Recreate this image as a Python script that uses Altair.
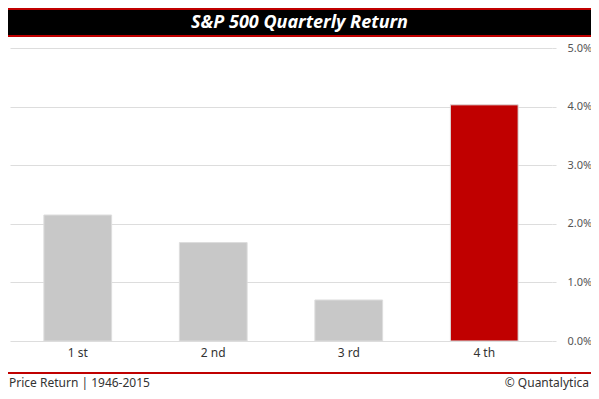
import altair as alt
import pandas as pd

quarters = ["1 st", "2 nd", "3 rd", "4 th"]
returns = [0.0215, 0.0168, 0.0070, 0.0403]
title_text = "S&P 500 Quarterly Return"
footer_left = "Price Return | 1946-2015"
footer_right = "© Quantalytica"

df = pd.DataFrame({"quarter": quarters, "ret": returns})

FONT = "Noto Sans"
PW, PH = 542, 293

base = alt.Chart(df)

bars = base.mark_bar(stroke="#dddddd", strokeWidth=1).encode(
    x=alt.X("quarter:N", sort=quarters, title=None,
            scale=alt.Scale(paddingInner=0.5, paddingOuter=0.25),
            axis=alt.Axis(labelAngle=0, ticks=False, domain=False, labelPadding=6,
                          labelFontSize=12, labelColor="#333333", labelFont=FONT)),
    y=alt.Y("ret:Q", title=None,
            scale=alt.Scale(domain=[0, 0.05]),
            axis=alt.Axis(orient="right", format=".1%", values=[0, 0.01, 0.02, 0.03, 0.04, 0.05],
                          domain=False, tickSize=4, tickColor="#dddddd", gridColor="#dddddd",
                          labelPadding=11, labelFontSize=11, labelColor="#555555", labelFont=FONT)),
    color=alt.condition(alt.datum.quarter == "4 th", alt.value("#c00000"), alt.value("#c8c8c8")),
)

deco = pd.DataFrame({"k": [0]})
dbase = alt.Chart(deco)

R = PW + 39  # right edge of canvas in plot coords
top_red = dbase.mark_rect(color="#c00000").encode(
    x=alt.value(-2), x2=alt.value(R), y=alt.value(-40), y2=alt.value(-11))
top_black = dbase.mark_rect(color="#000000").encode(
    x=alt.value(-2), x2=alt.value(R), y=alt.value(-38), y2=alt.value(-13))
title = dbase.mark_text(color="white", font=FONT, fontSize=18, fontWeight="bold",
                        fontStyle="italic", align="center", baseline="middle").encode(
    x=alt.value(R / 2 - 1), y=alt.value(-25), text=alt.value(title_text))
foot_line = dbase.mark_rect(color="#c00000").encode(
    x=alt.value(-2), x2=alt.value(R), y=alt.value(324), y2=alt.value(326))
foot_l = dbase.mark_text(color="#333333", font=FONT, fontSize=12, align="left",
                         baseline="middle").encode(
    x=alt.value(-1), y=alt.value(335), text=alt.value(footer_left))
foot_r = dbase.mark_text(color="#333333", font=FONT, fontSize=12, align="right",
                         baseline="middle").encode(
    x=alt.value(R - 2), y=alt.value(335), text=alt.value(footer_right))

chart = alt.layer(bars, top_red, top_black, title, foot_line, foot_l, foot_r).properties(
    width=PW, height=PH,
    autosize=alt.AutoSizeParams(type="none"),
    padding={"left": 2, "top": 40, "right": 39, "bottom": 50},
    background="white",
).configure_view(stroke=None)

chart.save("out.html", embed_options={"renderer": "svg", "actions": False})
